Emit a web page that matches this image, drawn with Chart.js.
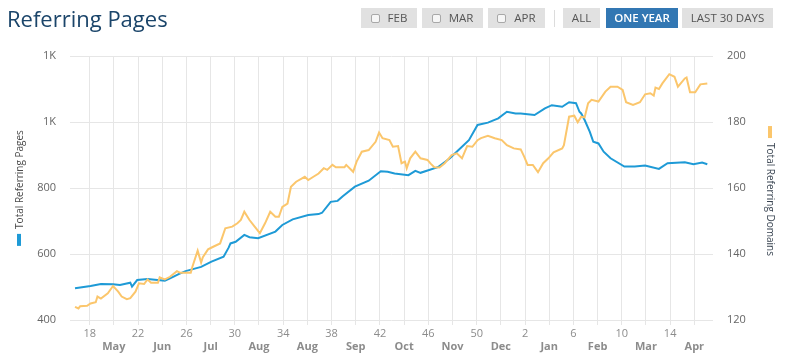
<!DOCTYPE html>
<html><head><meta charset="utf-8">
<script src="https://cdn.jsdelivr.net/npm/chart.js@4.4.1/dist/chart.umd.min.js"></script>
<style>
html,body{margin:0;padding:0;background:#fff;}
#wrap{position:relative;width:787px;height:355px;overflow:hidden;font-family:"Open Sans",sans-serif;}
#c{position:absolute;left:0;top:0;}
h1{position:absolute;left:7px;top:0;margin:0;font-size:22px;font-weight:400;color:#1b456a;line-height:36px;white-space:nowrap;}
.btn{position:absolute;top:8px;height:20px;background:#e1e1e1;color:#555;font-size:11.5px;line-height:20px;text-align:center;box-sizing:border-box;white-space:nowrap;}
.btn.on{background:#3277b3;color:#fff;font-weight:600;}
.cb{display:inline-block;width:7px;height:7px;border:1px solid #a8a8a8;border-radius:2px;background:#f6f6f6;margin-right:8px;vertical-align:-1px;}
.sep{position:absolute;left:554px;top:10px;width:1px;height:17px;background:#dcdcdc;}
</style></head>
<body>
<div id="wrap">
<canvas id="c" width="787" height="355"></canvas>
<h1>Referring Pages</h1>
<div class="btn" style="left:361px;width:56px"><span class="cb"></span>FEB</div>
<div class="btn" style="left:422px;width:61px"><span class="cb"></span>MAR</div>
<div class="btn" style="left:488px;width:57px"><span class="cb"></span>APR</div>
<div class="sep"></div>
<div class="btn" style="left:563px;width:37px">ALL</div>
<div class="btn on" style="left:606px;width:72px">ONE YEAR</div>
<div class="btn" style="left:682px;width:91px">LAST 30 DAYS</div>
</div>
<script>
// x values are day offsets from the first day of the one-year window
const pagesDays = [0,4,9,15,22,26,32,33,36,42,52,55,60,64,73,79,86,89,90,93,98,101,106,116,120,126,135,141,143,148,152,155,162,170,177,181,185,193,197,200,210,217,222,228,233,239,245,250,255,258,266,272,276,282,286,290,292,293,295,298,300,303,306,310,318,324,330,338,343,353,358,363,366];
const pagesValues = [496,499,503,509,508,506,513,501,521,524,519,526,539,548,561,577,592,620,632,637,658,651,648,668,688,705,718,721,725,758,761,775,804,822,851,849,844,839,852,846,863,890,915,945,991,998,1011,1031,1026,1026,1021,1041,1051,1046,1060,1057,1031,1026,1006,970,940,935,910,890,865,865,868,858,875,878,872,877,872];

const domainsDays = [0,2,3,7,9,12,13,15,19,22,25,27,30,32,35,37,40,42,44,48,49,52,55,59,61,67,68,71,73,74,77,80,84,87,91,94,96,98,101,104,107,110,113,116,118,120,123,125,128,133,135,138,141,144,146,149,151,156,157,161,163,166,170,174,176,178,182,184,187,189,191,192,194,197,200,204,206,208,211,214,218,221,224,227,230,233,235,239,243,247,250,254,258,260,262,265,268,271,274,277,282,283,286,289,291,293,295,297,299,303,307,310,314,317,319,323,327,330,333,335,336,338,340,344,347,349,353,354,356,359,362,366];
const domainsValues = [124.0,123.5,124.2,124.3,125.0,125.4,127.1,126.5,128.1,130.3,128.6,127.1,126.3,126.6,128.6,131.1,130.9,132.3,131.3,131.3,132.9,132.3,133.1,134.8,134.3,134.3,136.2,141.0,137.4,139.0,141.4,142.2,143.2,147.8,148.3,149.3,150.3,152.8,150.3,148.3,146.3,149.3,152.8,151.3,151.3,154.3,155.3,160.4,161.9,163.4,162.4,163.4,164.4,166.0,165.5,167.0,166.3,166.3,167.0,164.9,168.0,171.0,171.5,174.0,176.8,175.1,174.5,172.5,172.7,167.5,168.0,166.0,169.0,171.0,169.0,168.5,167.3,166.3,166.2,167.5,170.0,170.5,169.0,172.7,172.5,174.5,175.1,175.8,175.1,174.5,173.0,172.0,171.7,169.5,167.0,167.0,164.8,167.5,169.0,170.8,172.0,173.0,181.6,181.9,179.9,181.6,181.4,185.7,186.7,186.2,189.2,190.7,190.7,189.7,186.0,185.2,186.0,188.4,188.7,188.0,190.4,190.0,191.7,194.5,193.7,190.7,193.2,193.5,189.0,189.0,191.4,191.7];

// x-axis ticks every 2 weeks: week numbers alternate with month names
const xTickDays = [8.5,22.5,36.5,50.5,64.5,78.5,92.5,106.5,120.5,134.5,148.5,162.5,176.5,190.5,204.5,218.5,232.5,246.5,260.5,274.5,288.5,302.5,316.5,330.5,344.5,358.5];
const xTickLabels = ["18","May","22","Jun","26","Jul","30","Aug","34","Aug","38","Sep","42","Oct","46","Nov","50","Dec","2","Jan","6","Feb","10","Mar","14","Apr"];
const leftTickLabels = ["400","600","800","1K","1K"];
const rightTickLabels = ["120","140","160","180","200"];

const leftTitle = "Total Referring Pages";
const rightTitle = "Total Referring Domains";
const BLUE = "#1e9ad6", ORANGE = "#fbc66c";
const FONT = '"Open Sans", sans-serif';
Chart.defaults.font.family = FONT;

const titlePlugin = {
  id: 'axisTitles',
  afterDraw(chart) {
    const ctx = chart.ctx, ca = chart.chartArea;
    const cy = (ca.top + ca.bottom) / 2;
    ctx.save();
    ctx.font = '10px ' + FONT;
    ctx.textBaseline = 'middle';
    ctx.textAlign = 'center';
    const mLen = 12, gap = 5;
    // left (reads bottom to top, marker at bottom)
    let tw = ctx.measureText(leftTitle).width;
    let total = tw + gap + mLen;
    let bottom = cy + total / 2;
    ctx.fillStyle = BLUE;
    ctx.fillRect(17, bottom - mLen, 4, mLen);
    ctx.save();
    ctx.translate(20, bottom - mLen - gap - tw / 2);
    ctx.rotate(-Math.PI / 2);
    ctx.fillStyle = '#4a4a4a';
    ctx.fillText(leftTitle, 0, 0);
    ctx.restore();
    // right (reads top to bottom, marker on top)
    tw = ctx.measureText(rightTitle).width;
    total = tw + gap + mLen;
    let top = cy - total / 2 + 3;
    ctx.fillStyle = ORANGE;
    ctx.fillRect(768, top, 4, mLen);
    ctx.save();
    ctx.translate(770, top + mLen + gap + tw / 2);
    ctx.rotate(Math.PI / 2);
    ctx.fillStyle = '#3a4552';
    ctx.fillText(rightTitle, 0, 0);
    ctx.restore();
    ctx.restore();
  }
};

new Chart(document.getElementById('c'), {
  type: 'line',
  data: {
    datasets: [
      { label: leftTitle, yAxisID: 'y',
        data: pagesDays.map((d, i) => ({ x: d, y: pagesValues[i] })),
        borderColor: BLUE, borderWidth: 2, pointRadius: 0, tension: 0, order: 2 },
      { label: rightTitle, yAxisID: 'y1',
        data: domainsDays.map((d, i) => ({ x: d, y: domainsValues[i] })),
        borderColor: ORANGE, borderWidth: 2, pointRadius: 0, tension: 0, order: 1 }
    ]
  },
  options: {
    responsive: false, animation: false, devicePixelRatio: 1,
    layout: { padding: { top: 56, left: 0, right: 0, bottom: 0 } },
    plugins: { legend: { display: false }, tooltip: { enabled: false } },
    scales: {
      x: {
        type: 'linear', min: -2.9, max: 369.3,
        afterBuildTicks: s => { s.ticks = xTickDays.map(v => ({ value: v })); },
        afterFit: s => { s.height = 35; },
        grid: { color: '#e6e6e6', tickLength: 5 },
        border: { display: false },
        ticks: {
          autoSkip: false, maxRotation: 0, padding: 2,
          callback: (v, i) => (i % 2 ? ['', xTickLabels[i]] : xTickLabels[i]),
          font: c => ({ family: FONT, size: 11, weight: (c.index % 2 ? 'bold' : 'normal') }),
          color: '#8c8c8c'
        }
      },
      y: {
        position: 'left', min: 400, max: 1200,
        afterFit: s => { s.width = 70; },
        grid: { color: '#e6e6e6', drawTicks: false },
        border: { display: false },
        ticks: { stepSize: 200, padding: 14, color: '#666', font: { size: 11 },
          callback: (v, i) => leftTickLabels[i] }
      },
      y1: {
        position: 'right', min: 120, max: 200,
        afterFit: s => { s.width = 74; },
        grid: { display: false, drawTicks: false },
        border: { display: false },
        ticks: { stepSize: 20, padding: 14, color: '#666', font: { size: 11 },
          callback: (v, i) => rightTickLabels[i] }
      }
    }
  },
  plugins: [titlePlugin]
});
</script>
</body></html>
